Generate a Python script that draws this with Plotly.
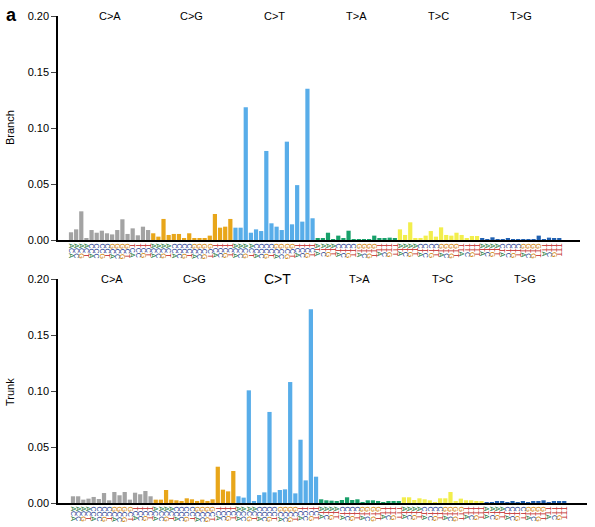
import plotly.graph_objects as go

mut_types = ["C>A", "C>G", "C>T", "T>A", "T>C", "T>G"]
bases = ["A", "C", "G", "T"]
type_colors = ["#a3a3a3", "#e8a61a", "#58ade9", "#18a06a", "#f2ee4c", "#2060b0"]

branch_vals = [
    # C>A
    0.0069, 0.0095, 0.0256, 0.0018, 0.0089, 0.0065, 0.0083, 0.0060,
    0.0050, 0.0089, 0.0185, 0.0054, 0.0104, 0.0042, 0.0119, 0.0089,
    # C>G
    0.0060, 0.0030, 0.0188, 0.0045, 0.0054, 0.0054, 0.0010, 0.0060,
    0.0018, 0.0018, 0.0010, 0.0039, 0.0232, 0.0110, 0.0119, 0.0188,
    # C>T
    0.0110, 0.0110, 0.1185, 0.0065, 0.0095, 0.0080, 0.0795, 0.0149,
    0.0119, 0.0089, 0.0878, 0.0140, 0.0490, 0.0164, 0.1350, 0.0194,
    # T>A
    0.0015, 0.0015, 0.0065, 0.0006, 0.0039, 0.0015, 0.0083, 0.0006,
    0.0002, 0.0002, 0.0006, 0.0039, 0.0009, 0.0009, 0.0021, 0.0015,
    # T>C
    0.0095, 0.0045, 0.0158, 0.0015, 0.0015, 0.0039, 0.0080, 0.0030,
    0.0113, 0.0045, 0.0039, 0.0065, 0.0045, 0.0015, 0.0036, 0.0036,
    # T>G
    0.0015, 0.0006, 0.0024, 0.0006, 0.0006, 0.0015, 0.0006, 0.0003,
    0.0006, 0.0006, 0.0006, 0.0039, 0.0006, 0.0021, 0.0009, 0.0012,
]

trunk_vals = [
    # C>A
    0.0060, 0.0060, 0.0030, 0.0039, 0.0054, 0.0036, 0.0089, 0.0024,
    0.0098, 0.0069, 0.0098, 0.0030, 0.0092, 0.0078, 0.0107, 0.0060,
    # C>G
    0.0030, 0.0030, 0.0116, 0.0030, 0.0024, 0.0018, 0.0042, 0.0033,
    0.0018, 0.0030, 0.0018, 0.0033, 0.0324, 0.0119, 0.0104, 0.0286,
    # C>T
    0.0060, 0.0048, 0.1006, 0.0015, 0.0071, 0.0095, 0.0813, 0.0095,
    0.0116, 0.0122, 0.1080, 0.0086, 0.0565, 0.0202, 0.1730, 0.0235,
    # T>A
    0.0033, 0.0024, 0.0021, 0.0018, 0.0027, 0.0051, 0.0027, 0.0033,
    0.0006, 0.0024, 0.0024, 0.0009, 0.0006, 0.0009, 0.0015, 0.0015,
    # T>C
    0.0051, 0.0051, 0.0027, 0.0042, 0.0033, 0.0024, 0.0006, 0.0042,
    0.0042, 0.0098, 0.0009, 0.0039, 0.0024, 0.0024, 0.0012, 0.0012,
    # T>G
    0.0006, 0.0006, 0.0012, 0.0018, 0.0006, 0.0015, 0.0006, 0.0015,
    0.0006, 0.0015, 0.0015, 0.0024, 0.0002, 0.0009, 0.0015, 0.0012,
]

y_ticks = [0.00, 0.05, 0.10, 0.15, 0.20]

base_colors = {"A": "#1a7a3a", "C": "#1f3f90", "G": "#d08000", "T": "#c01818"}

contexts, bar_colors = [], []
for ti, mt in enumerate(mut_types):
    ref = mt[0]
    for b5 in bases:
        for b3 in bases:
            contexts.append(b5 + ref + b3)
            bar_colors.append(type_colors[ti])

def colored(ctx):
    return "".join(f'<span style="color:{base_colors[c]}">{c}</span>' for c in ctx)

tick_text = [colored(c) for c in contexts]
xs = list(range(len(contexts)))

fig = go.Figure()
fig.add_trace(go.Bar(x=xs, y=branch_vals, marker=dict(color=bar_colors, line_width=0),
                     xaxis="x", yaxis="y", showlegend=False))
fig.add_trace(go.Bar(x=xs, y=trunk_vals, marker=dict(color=bar_colors, line_width=0),
                     xaxis="x2", yaxis="y2", showlegend=False))

W, H = 595, 527
ml, mr, mt_, mb = 58, 8, 16, 24
pw, ph = W - ml - mr, H - mt_ - mb

def py(pix):
    return (H - mb - pix) / ph

def px(pix):
    return (pix - ml) / pw

xcommon = dict(tickmode="array", tickvals=xs, ticktext=tick_text, tickangle=90,
               tickfont=dict(size=7, family="Liberation Sans"), ticks="",
               showline=True, linecolor="black", linewidth=2, showgrid=False,
               zeroline=False, fixedrange=True, automargin=False)
ycommon = dict(range=[0, 0.2], tickvals=y_ticks, tickformat=".2f", ticks="outside",
               ticklen=5, tickwidth=1.2, showline=True, linecolor="black",
               linewidth=1.5, showgrid=False, zeroline=False, automargin=False,
               tickfont=dict(size=11, family="Liberation Sans", color="black"))

fig.update_layout(
    width=W, height=H,
    margin=dict(l=ml, r=mr, t=mt_, b=mb, autoexpand=False),
    plot_bgcolor="white", paper_bgcolor="white",
    bargap=0.18,
    xaxis=dict(domain=[0, px(580)], range=[-2.53, 99.03], anchor="y", **xcommon),
    yaxis=dict(domain=[py(240), 1.0], anchor="x", **ycommon),
    xaxis2=dict(domain=[0, 1], range=[-2.9, 99.4], anchor="y2", **xcommon),
    yaxis2=dict(domain=[0, py(279)], anchor="x2", **ycommon),
)

annos = []
for ti, mt in enumerate(mut_types):
    cx = ti * 16 + 7.5
    annos.append(dict(x=cx, y=0.2, xref="x", yref="y", text=mt, showarrow=False,
                      yanchor="middle", font=dict(size=11, family="Liberation Sans", color="black")))
    annos.append(dict(x=cx, y=0.2, xref="x2", yref="y2", text=mt, showarrow=False,
                      yanchor="middle",
                      font=dict(size=14 if mt == "C>T" else 11, family="Liberation Sans", color="black")))
annos.append(dict(x=px(4), y=py(15), xref="paper", yref="paper", text="<b>a</b>",
                  showarrow=False, xanchor="left", yanchor="middle",
                  font=dict(size=18, family="Liberation Sans", color="black")))
annos.append(dict(x=px(10), y=py(128), xref="paper", yref="paper", text="Branch",
                  textangle=-90, showarrow=False, xanchor="center", yanchor="middle",
                  font=dict(size=11, family="Liberation Sans", color="black")))
annos.append(dict(x=px(10), y=py(392), xref="paper", yref="paper", text="Trunk",
                  textangle=-90, showarrow=False, xanchor="center", yanchor="middle",
                  font=dict(size=11, family="Liberation Sans", color="black")))
fig.update_layout(annotations=annos)

fig.write_html("out.html", config={"displayModeBar": False},
               post_script="document.body.style.margin='0px';document.body.style.overflow='hidden';")
